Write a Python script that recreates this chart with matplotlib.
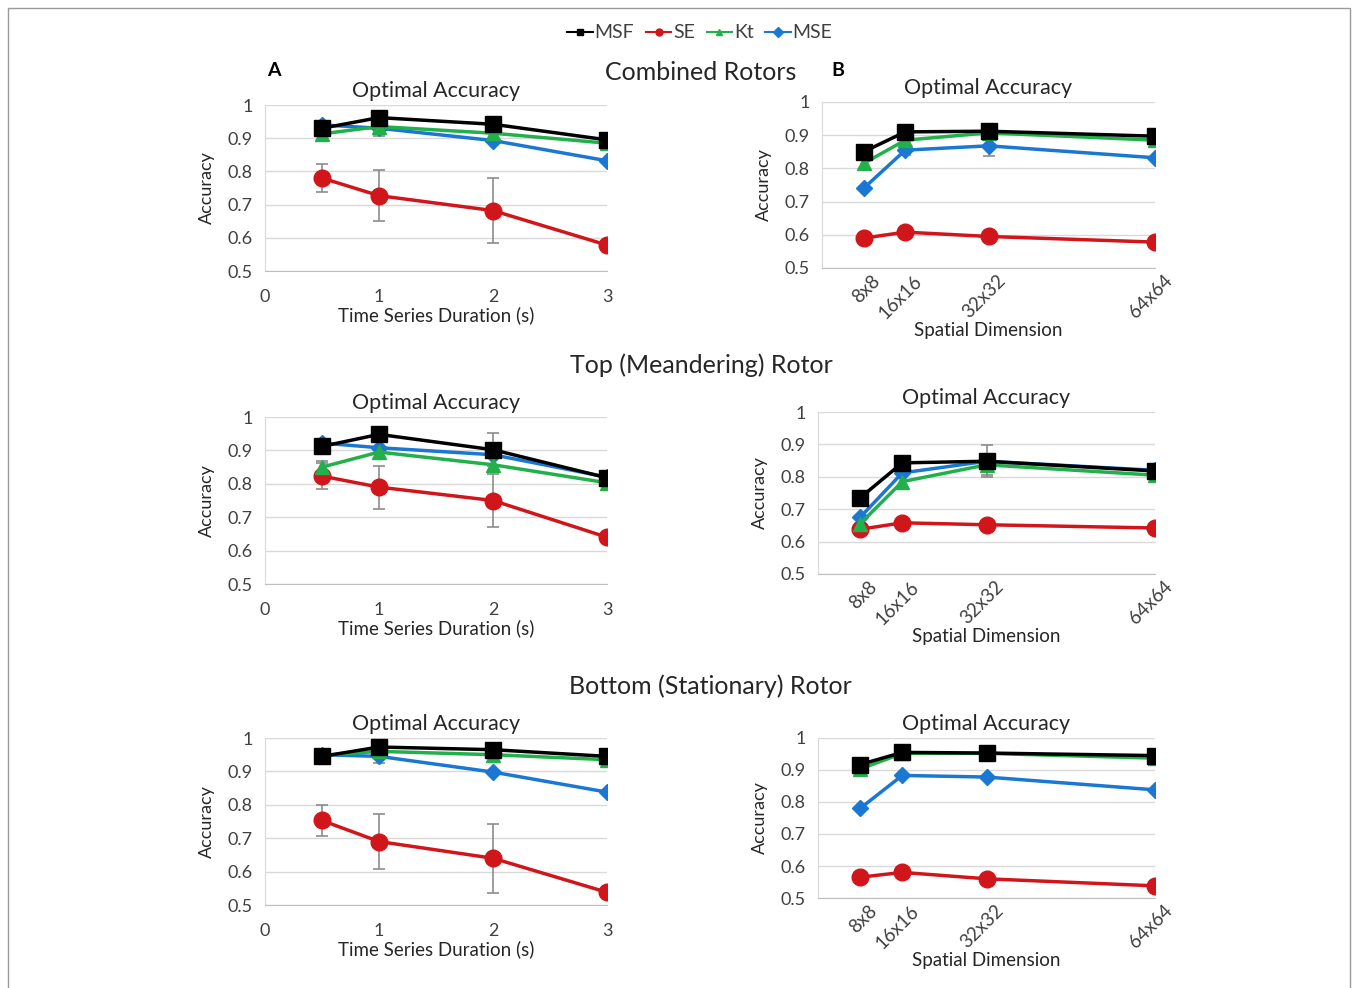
import numpy as np
import matplotlib.pyplot as plt
import matplotlib.transforms as mtransforms
from matplotlib.lines import Line2D
from matplotlib.patches import Rectangle

plt.rcParams['font.family'] = ['Lato', 'DejaVu Sans']

# Data
durations = [0.5, 1, 2, 3]
dims = [8, 16, 32, 64]
dim_labels = ['8x8', '16x16', '32x32', '64x64']
series = ['MSF', 'SE', 'Kt', 'MSE']

# Combined rotors
comb_dur = {
    'MSF': [0.930, 0.962, 0.942, 0.895],
    'SE':  [0.780, 0.727, 0.682, 0.578],
    'Kt':  [0.913, 0.935, 0.915, 0.885],
    'MSE': [0.940, 0.930, 0.893, 0.832],
}
comb_dur_err = {
    'SE':  [0.043, 0.076, 0.098, 0.0],
    'MSE': [0.0, 0.022, 0.0, 0.0],
}
comb_dim = {
    'MSF': [0.850, 0.910, 0.912, 0.897],
    'SE':  [0.590, 0.608, 0.595, 0.578],
    'Kt':  [0.815, 0.885, 0.907, 0.885],
    'MSE': [0.740, 0.855, 0.868, 0.832],
}
comb_dim_err = {
    'MSE': [0.0, 0.015, 0.030, 0.0],
}

# Top (meandering) rotor
top_dur = {
    'MSF': [0.912, 0.948, 0.902, 0.818],
    'SE':  [0.823, 0.790, 0.750, 0.640],
    'Kt':  [0.850, 0.895, 0.857, 0.803],
    'MSE': [0.922, 0.908, 0.887, 0.820],
}
top_dur_err = {
    'SE':  [0.040, 0.064, 0.078, 0.0],
    'Kt':  [0.018, 0.0, 0.0, 0.0],
    'MSF': [0.0, 0.0, 0.050, 0.0],
}
top_dim = {
    'MSF': [0.735, 0.843, 0.848, 0.818],
    'SE':  [0.638, 0.658, 0.652, 0.642],
    'Kt':  [0.655, 0.785, 0.837, 0.805],
    'MSE': [0.675, 0.812, 0.848, 0.820],
}
top_dim_err = {
    'MSF': [0.0, 0.0, 0.050, 0.0],
    'Kt':  [0.0, 0.0, 0.030, 0.0],
}

# Bottom (stationary) rotor
bot_dur = {
    'MSF': [0.945, 0.973, 0.965, 0.945],
    'SE':  [0.753, 0.690, 0.640, 0.538],
    'Kt':  [0.948, 0.960, 0.950, 0.935],
    'MSE': [0.950, 0.945, 0.898, 0.838],
}
bot_dur_err = {
    'SE':  [0.047, 0.082, 0.104, 0.0],
    'MSE': [0.0, 0.020, 0.0, 0.0],
}
bot_dim = {
    'MSF': [0.917, 0.955, 0.953, 0.945],
    'SE':  [0.565, 0.580, 0.560, 0.538],
    'Kt':  [0.903, 0.952, 0.952, 0.937],
    'MSE': [0.780, 0.883, 0.878, 0.838],
}
bot_dim_err = {}

# Styles
colors = {'MSF': '#000000', 'SE': '#d0161b', 'Kt': '#22b04b', 'MSE': '#1a78d2'}
markers = {'MSF': 's', 'SE': 'o', 'Kt': '^', 'MSE': 'D'}
msizes = {'MSF': 11, 'SE': 12, 'Kt': 10, 'MSE': 8}
draw_order = ['SE', 'MSE', 'Kt', 'MSF']

W, H = 1357, 988
fig = plt.figure(figsize=(W / 100, H / 100), dpi=100)


def px_axes(x0, x1, y_top, y_bot):
    return fig.add_axes([x0 / W, 1 - y_bot / H, (x1 - x0) / W, (y_bot - y_top) / H])


def style_axes(ax):
    ax.set_ylim(0.5, 1.0)
    ax.set_yticks([0.5, 0.6, 0.7, 0.8, 0.9, 1.0])
    ax.set_yticklabels(['0.5', '0.6', '0.7', '0.8', '0.9', '1'])
    ax.yaxis.grid(True, color='#d9d9d9', lw=1)
    ax.set_axisbelow(True)
    for s in ['top', 'right']:
        ax.spines[s].set_visible(False)
    ax.spines['left'].set_color('#d9d9d9')
    ax.spines['bottom'].set_color('#bfbfbf')
    ax.tick_params(length=0, labelsize=13, colors='#404040', pad=9)
    ax.set_title('Optimal Accuracy', fontsize=15.5, color='#262626', pad=6)
    ax.set_ylabel('Accuracy', fontsize=13, color='#262626', labelpad=9)


def draw(ax, x, data, err):
    for name in draw_order:
        if name in err:
            e = np.array(err[name])
            m = e > 0
            ax.errorbar(np.array(x)[m], np.array(data[name])[m], yerr=e[m], fmt='none',
                        ecolor='#8c8c8c', elinewidth=1.2, capsize=4, capthick=1.2, zorder=2)
    for name in draw_order:
        ax.plot(x, data[name], color=colors[name], lw=2.5, marker=markers[name],
                ms=msizes[name], zorder=3)


def dur_panel(box, data, err):
    ax = px_axes(*box)
    draw(ax, durations, data, err)
    style_axes(ax)
    ax.set_xlim(0, 3)
    ax.set_xticks([0, 1, 2, 3])
    ax.tick_params(axis='x', pad=13)
    ax.set_xlabel('Time Series Duration (s)', fontsize=13.5, color='#262626', labelpad=1)
    return ax


def dim_panel(box, data, err):
    ax = px_axes(*box)
    draw(ax, dims, data, err)
    style_axes(ax)
    ax.set_xlim(0, 64)
    ax.set_xticks(dims)
    ax.set_xticklabels(dim_labels, rotation=45, ha='right', rotation_mode='anchor')
    ax.tick_params(axis='x', pad=3, labelsize=13.5)
    shift = mtransforms.ScaledTranslation(8 / 100, 0, fig.dpi_scale_trans)
    for lab in ax.get_xticklabels():
        lab.set_transform(lab.get_transform() + shift)
    ax.set_xlabel('Spatial Dimension', fontsize=13.5, color='#262626', labelpad=0)
    return ax


dur_panel((265, 607, 105, 271), comb_dur, comb_dur_err)
dim_panel((822, 1155, 102, 268), comb_dim, comb_dim_err)
dur_panel((265, 607, 417, 584), top_dur, top_dur_err)
dim_panel((818, 1155, 412, 574), top_dim, top_dim_err)
dur_panel((265, 607, 738, 905), bot_dur, bot_dur_err)
dim_panel((818, 1155, 738, 898), bot_dim, bot_dim_err)

# Section titles and panel letters
fig.text(701 / W, 1 - 73 / H, 'Combined Rotors', fontsize=18, ha='center', va='center', color='#262626')
fig.text(701 / W, 1 - 365 / H, 'Top (Meandering) Rotor', fontsize=18, ha='center', va='center', color='#262626')
fig.text(710 / W, 1 - 686 / H, 'Bottom (Stationary) Rotor', fontsize=18, ha='center', va='center', color='#262626')
fig.text(274 / W, 1 - 71 / H, 'A', fontsize=14, fontweight='bold', ha='center', va='center')
fig.text(838 / W, 1 - 71 / H, 'B', fontsize=14, fontweight='bold', ha='center', va='center')

# Legend
handles = [Line2D([], [], color=colors[n], lw=1.5, marker=markers[n], ms=5) for n in series]
fig.legend(handles, series, loc='center', bbox_to_anchor=(700 / W, 1 - 33 / H), ncol=4,
           frameon=False, fontsize=14, handlelength=1.3, handletextpad=0.1, columnspacing=0.6,
           labelcolor='#404040')

# Outer frame
fig.patches.append(Rectangle((8 / W, -0.01), 1342 / W, 1 - 8 / H + 0.01, transform=fig.transFigure,
                             fill=False, edgecolor='#9a9a9a', lw=1))

fig.savefig('out.png', dpi=100)
